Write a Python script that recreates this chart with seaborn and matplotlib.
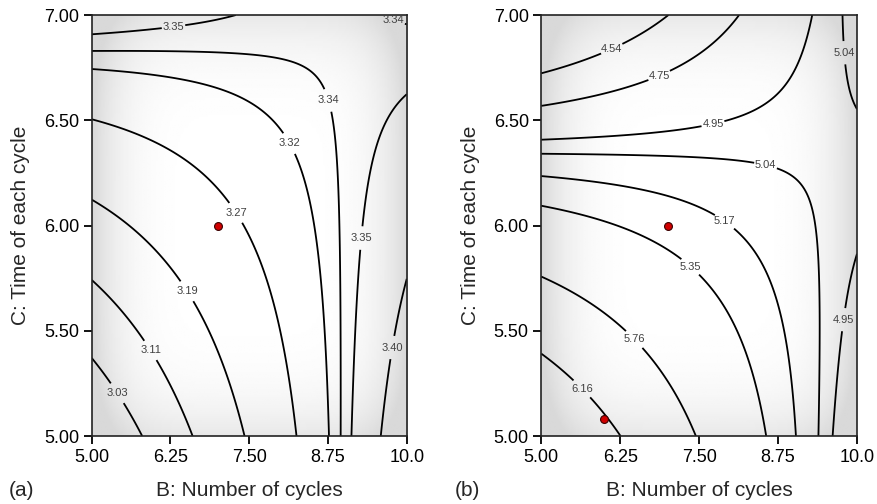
import numpy as np
import matplotlib
matplotlib.use('Agg')
import matplotlib.pyplot as plt
import seaborn as sns

# Points read off each contour line of the reference: B (cycles), C (time), label
# Panel (a)
a_b = [5, 5, 5, 5, 5, 5, 5,
       5.78, 6.59, 7.42, 8.25, 8.77, 8.94, 9.12, 9.59,
       7.46, 9.60, 10, 10, 10,
       7.275, 8.137, 8.70, 9.30, 6.545, 5.96, 5.44, 9.78, 6.30, 9.74]
a_c = [6.908, 6.826, 6.742, 6.509, 6.113, 5.733, 5.361,
       5, 5, 5, 5, 5, 5, 5, 5,
       7, 7, 6.94, 6.60, 5.765,
       6.058, 6.39, 6.59, 5.94, 5.694, 5.412, 5.21, 5.42, 6.94, 6.94]
a_lab = ['3.35', '3.34', '3.32', '3.27', '3.19', '3.11', '3.03',
         '3.03', '3.11', '3.19', '3.27', '3.32', '3.34', '3.35', '3.40',
         '3.35', '3.34', '3.34', '3.35', '3.40',
         '3.27', '3.32', '3.34', '3.35', '3.19', '3.11', '3.03', '3.40', '3.35', '3.34']
# label spots in panel (a)
a_lab_pos = [(6.30, 6.94), (9.74, 6.94), (8.70, 6.59), (8.137, 6.39), (7.275, 6.058),
             (9.30, 5.94), (6.545, 5.694), (5.96, 5.412), (5.44, 5.21), (9.78, 5.42)]

# Panel (b)
b_b = [5, 5, 5, 5, 5, 5, 5, 5,
       6.25, 7.455, 8.564, 9.034, 9.38, 9.615,
       7.02, 8.126, 9.19, 9.71, 10, 10,
       7.36, 6.49, 5.67, 7.86, 8.52, 7.72, 9.735, 6.875, 6.12, 9.76]
b_c = [6.726, 6.571, 6.422, 6.35, 6.245, 6.094, 5.749, 5.38,
       5, 5, 5, 5, 5, 5,
       7, 7, 7, 7, 6.66, 6.04,
       5.804, 5.464, 5.232, 6.0, 6.245, 6.482, 5.555, 6.707, 6.837, 6.82]
b_lab = ['4.54', '4.75', '4.95', '5.04', '5.17', '5.35', '5.76', '6.16',
         '6.16', '5.76', '5.35', '5.17', '5.04', '4.95',
         '4.54', '4.75', '4.95', '5.04', '5.04', '4.95',
         '5.35', '5.76', '6.16', '5.17', '5.04', '4.95', '4.95', '4.75', '4.54', '5.04']
b_lab_pos = [(6.12, 6.837), (6.875, 6.707), (7.72, 6.482), (9.76, 6.82), (8.52, 6.245),
             (7.86, 6.0), (7.36, 5.804), (6.49, 5.464), (5.67, 5.232), (9.735, 5.555)]

# design points marked in red
a_pts_b = [7.0]
a_pts_c = [6.0]
b_pts_b = [7.0, 6.0]
b_pts_c = [6.0, 5.08]

x_ticks = [5.00, 6.25, 7.50, 8.75, 10.0]
x_ticklabels = ['5.00', '6.25', '7.50', '8.75', '10.0']
y_ticks = [5.00, 5.50, 6.00, 6.50, 7.00]
y_ticklabels = ['5.00', '5.50', '6.00', '6.50', '7.00']


def design(b, c):
    u = np.asarray(b) - 7.5
    v = np.asarray(c) - 6.0
    return np.stack([np.ones_like(u), u, v, u * v, u ** 2, v ** 2], axis=-1)


def surface(bs, cs, labs):
    z = np.array([float(s) for s in labs])
    coef, *_ = np.linalg.lstsq(design(bs, cs), z, rcond=None)
    fitted = design(bs, cs) @ coef
    # contour level for every label = fitted mean along that line
    lv = {}
    for s in sorted(set(labs)):
        m = np.array(labs) == s
        lv[s] = fitted[m].mean()
    return coef, lv


sns.set_theme(style='ticks')
plt.rcParams['font.family'] = ['Liberation Sans', 'DejaVu Sans']

fig = plt.figure(figsize=(8.77, 5.04), dpi=100)
ax_a = fig.add_axes([0.1046, 0.1349, 0.3592, 0.8353])
ax_b = fig.add_axes([0.6172, 0.1349, 0.36, 0.8353])

gb, gc = np.meshgrid(np.linspace(5, 10, 300), np.linspace(5, 7, 300))

# light grey vignette behind the contours
vx, vy = np.meshgrid(np.linspace(-1, 1, 200), np.linspace(-1, 1, 200))
shade = 1 - 0.15 * np.clip(np.abs(vx) ** 5 + 0.6 * np.abs(vy) ** 5, 0, 1)

panels = [(ax_a, a_b, a_c, a_lab, a_lab_pos, a_pts_b, a_pts_c),
          (ax_b, b_b, b_c, b_lab, b_lab_pos, b_pts_b, b_pts_c)]

for ax, bs, cs_, labs, lab_pos, pb, pc in panels:
    coef, lv = surface(bs, cs_, labs)
    Z = design(gb, gc) @ coef
    ax.imshow(shade, extent=(5, 10, 5, 7), origin='lower', aspect='auto',
              cmap='gray', vmin=0, vmax=1, zorder=0)
    order = sorted(lv.items(), key=lambda t: t[1])
    levels = [v for _, v in order]
    fmt = {v: s for s, v in order}
    cs = ax.contour(gb, gc, Z, levels=levels, colors='black', linewidths=1.3, zorder=2)
    texts = ax.clabel(cs, fmt=fmt, manual=lab_pos, fontsize=8, inline=True,
                      inline_spacing=1, colors='#404040')
    for t in texts:
        t.set_rotation(0)
    sns.scatterplot(x=pb, y=pc, ax=ax, color='#d00000', edgecolor='#3a0000',
                    linewidth=0.8, s=32, zorder=5, legend=False)
    ax.set_xlim(5, 10)
    ax.set_ylim(5, 7)
    ax.set_xticks(x_ticks)
    ax.set_xticklabels(x_ticklabels)
    ax.set_yticks(y_ticks)
    ax.set_yticklabels(y_ticklabels)
    ax.tick_params(direction='out', length=6, width=1.3, labelsize=13,
                   colors='black', pad=3)
    for sp in ax.spines.values():
        sp.set_visible(True)
        sp.set_color('#222222')
        sp.set_linewidth(1.2)
    ax.set_xlabel('B: Number of cycles', fontsize=15, labelpad=11)
    ax.set_ylabel('C: Time of each cycle', fontsize=15, labelpad=10)

fig.text(21.7 / 877, 1 - 490 / 504, '(a)', fontsize=15, ha='center', va='center')
fig.text(467 / 877, 1 - 490 / 504, '(b)', fontsize=15, ha='center', va='center')

fig.savefig('out.png', dpi=100)
